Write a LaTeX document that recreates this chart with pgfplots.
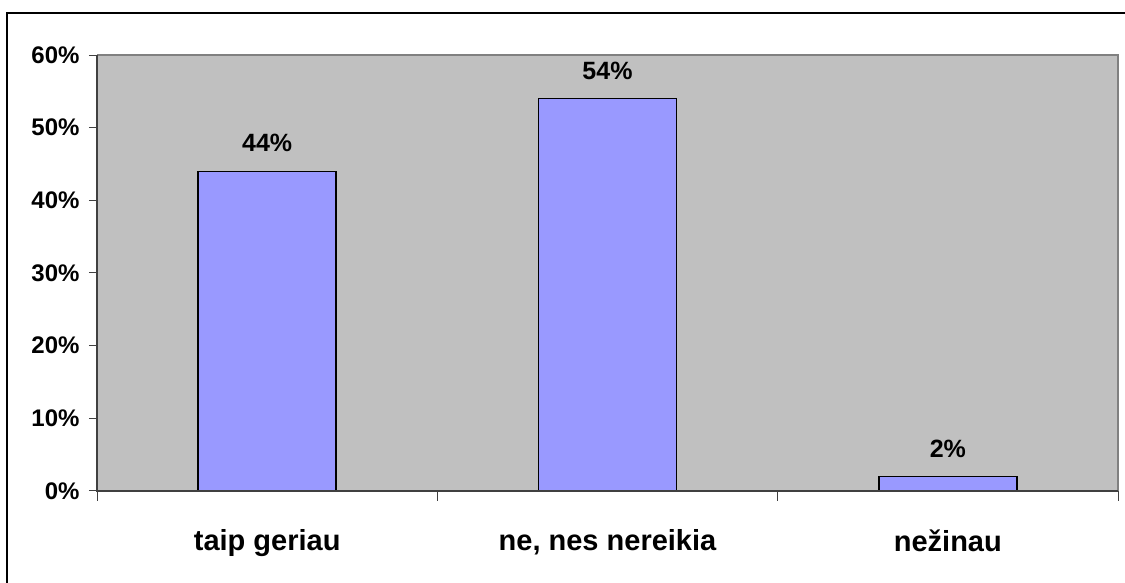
\documentclass[border=0pt]{standalone}
\usepackage{pgfplots}
\pgfplotsset{compat=1.18}
\usepackage{fontspec}
\setmainfont{Liberation Sans}
\definecolor{plotbg}{HTML}{C0C0C0}
\definecolor{barfill}{HTML}{9999FF}
\definecolor{frameline}{HTML}{808080}
\definecolor{axisline}{HTML}{404040}
\begin{document}
\begin{tikzpicture}[x=1pt,y=1pt]
\clip (0,0) rectangle (1125,583);
\fill[white] (0,0) rectangle (1125,583);
% outer chart frame
\draw[line width=2pt,black] (7,-20) -- (7,570) -- (1145,570);
\begin{axis}[
  at={(97pt,92pt)}, anchor=south west,
  scale only axis, width=1021pt, height=436pt,
  xmin=-0.5, xmax=2.5, ymin=0, ymax=60,
  axis background/.style={fill=plotbg},
  axis line style={draw=none},
  ybar, bar width=138pt,
  xtick={0,1,2},
  xticklabels={taip geriau, {ne, nes nereikia}, nežinau},
  minor xtick={-0.5,0.5,1.5,2.5},
  ytick={0,10,20,30,40,50,60},
  yticklabels={0\%,10\%,20\%,30\%,40\%,50\%,60\%},
  tick align=outside,
  xtick pos=bottom, ytick pos=left,
  major x tick style={draw=none},
  minor x tick style={draw=axisline, line width=1pt},
  minor tick length=10pt,
  major y tick style={draw=axisline, line width=1pt},
  major tick length=8pt,
  /pgf/number format/assume math mode=true,
  xticklabel style={font=\fontsize{29}{33}\selectfont\bfseries, yshift=-27pt},
  yticklabel style={font=\fontsize{24}{28}\selectfont\bfseries, xshift=-6pt},
  nodes near coords={\pgfmathprintnumber{\pgfplotspointmeta}\%},
  every node near coord/.append style={font=\fontsize{25}{29}\selectfont\bfseries, anchor=center, yshift=28pt},
  clip=false,
]
\addplot[fill=barfill, draw=black, line width=1.5pt] coordinates {(0,44) (1,54) (2,2)};
\draw[frameline, line width=1.5pt] (rel axis cs:0,1) -- (rel axis cs:1,1) -- (rel axis cs:1,0);
\draw[axisline, line width=1.5pt] (rel axis cs:0,1) -- (rel axis cs:0,0) -- (rel axis cs:1,0);
\end{axis}
\end{tikzpicture}
\end{document}
